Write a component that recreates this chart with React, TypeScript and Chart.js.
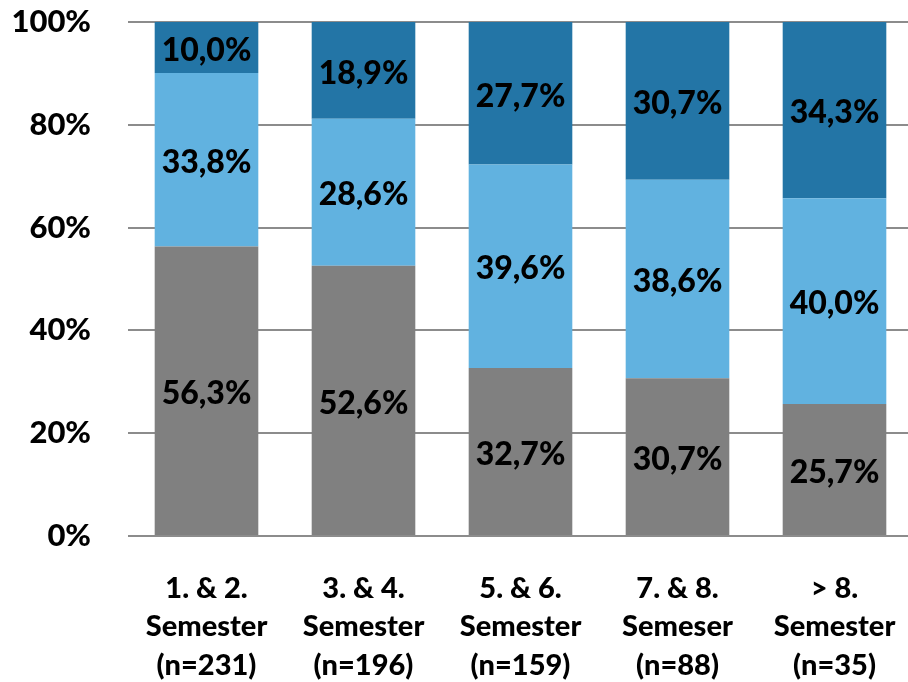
import React, { useEffect, useRef } from "react";
import { Chart, registerables } from "chart.js";

Chart.register(...registerables);

const categories: string[][] = [
  ["1. & 2.", "Semester", "(n=231)"],
  ["3. & 4.", "Semester", "(n=196)"],
  ["5. & 6.", "Semester", "(n=159)"],
  ["7. & 8.", "Semeser", "(n=88)"],
  ["> 8.", "Semester", "(n=35)"],
];
const greyValues = [56.3, 52.6, 32.7, 30.7, 25.7];
const lightBlueValues = [33.8, 28.6, 39.6, 38.6, 40.0];
const darkBlueValues = [10.0, 18.9, 27.7, 30.7, 34.3];
const yTicks = [0, 20, 40, 60, 80, 100];

const FONT = "Lato";

const labelPlugin = {
  id: "segmentLabels",
  afterDatasetsDraw(chart: any) {
    const ctx = chart.ctx;
    ctx.save();
    ctx.font = `900 32px ${FONT}`;
    ctx.fillStyle = "#000000";
    ctx.textAlign = "center";
    ctx.textBaseline = "middle";
    chart.data.datasets.forEach((ds: any, di: number) => {
      const meta = chart.getDatasetMeta(di);
      meta.data.forEach((el: any, i: number) => {
        const v = ds.data[i] as number;
        const top = Math.max(el.y, chart.chartArea.top);
        const y = (top + el.base) / 2 + 3;
        ctx.fillText(v.toFixed(1).replace(".", ",") + "%", el.x, y);
      });
    });
    ctx.restore();
  },
};

export default function App() {
  const ref = useRef<HTMLCanvasElement>(null);
  useEffect(() => {
    if (!ref.current) return;
    const chart = new Chart(ref.current, {
      type: "bar",
      data: {
        labels: categories as any,
        datasets: [
          { label: "grey", data: greyValues, backgroundColor: "#808080" },
          { label: "light", data: lightBlueValues, backgroundColor: "#61b2e0" },
          { label: "dark", data: darkBlueValues, backgroundColor: "#2375a6" },
        ],
      },
      options: {
        animation: false,
        responsive: false,
        maintainAspectRatio: false,
        layout: { padding: { top: 22, right: 7, left: 0, bottom: 0 } },
        datasets: { bar: { categoryPercentage: 1, barPercentage: 0.66 } } as any,
        plugins: {
          legend: { display: false },
          tooltip: { enabled: false },
        },
        scales: {
          x: {
            stacked: true,
            grid: { display: false, drawTicks: false },
            border: { display: false },
            ticks: {
              color: "#000000",
              font: { family: FONT, weight: "900", size: 29, lineHeight: 1.33 },
              padding: 33,
              maxRotation: 0,
              autoSkip: false,
            },
            afterFit: (s: any) => {
              s.height = 146;
              s.paddingLeft = 0;
              s.paddingRight = 0;
            },
          },
          y: {
            stacked: true,
            min: 0,
            max: 100,
            afterBuildTicks: (s: any) => {
              s.ticks = yTicks.map((v) => ({ value: v }));
            },
            grid: { color: "#8c8c8c", lineWidth: 2, drawTicks: false },
            border: { display: false },
            ticks: {
              color: "#000000",
              font: { family: FONT, weight: "900", size: 31 },
              padding: 37,
              callback: (v: any) => v + "%",
            },
            afterFit: (s: any) => {
              s.width = 128;
              s.paddingTop = 0;
              s.paddingBottom = 0;
            },
          },
        },
      },
      plugins: [labelPlugin],
    });
    return () => chart.destroy();
  }, []);
  return (
    <div style={{ position: "fixed", left: 0, top: 0, width: 920, height: 682, background: "#fff" }}>
      <canvas ref={ref} width={920} height={682} style={{ display: "block" }} />
    </div>
  );
}
